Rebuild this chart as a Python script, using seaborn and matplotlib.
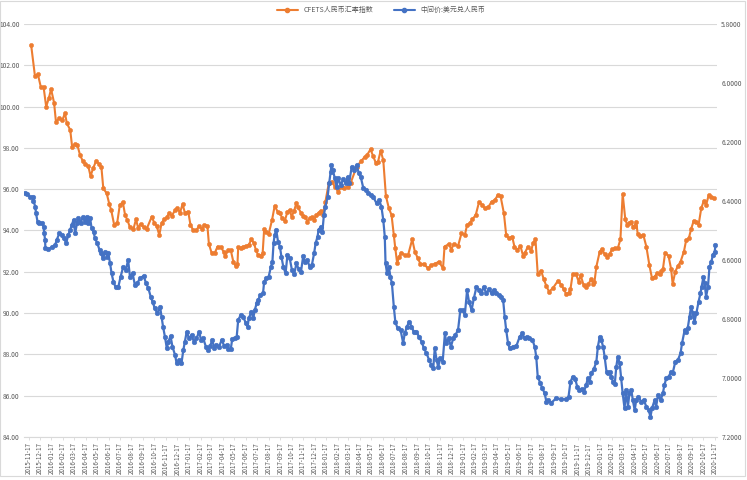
import pandas as pd
import seaborn as sns
import matplotlib.pyplot as plt
from matplotlib.lines import Line2D
from matplotlib.patches import Rectangle

# CFETS RMB index (weekly), left axis
cfets_dates = [
    "2015-11-24", "2015-12-04", "2015-12-12", "2015-12-20", "2015-12-27",
    "2016-01-03", "2016-01-10", "2016-01-16", "2016-01-24", "2016-01-29", "2016-02-07", "2016-02-15", "2016-02-22",
    "2016-02-27", "2016-03-07", "2016-03-12", "2016-03-20", "2016-03-26", "2016-04-02", "2016-04-09", "2016-04-16",
    "2016-04-24", "2016-04-30", "2016-05-07", "2016-05-15", "2016-05-23", "2016-05-29", "2016-06-03", "2016-06-12",
    "2016-06-19", "2016-06-24", "2016-07-02", "2016-07-10", "2016-07-17", "2016-07-25", "2016-07-31", "2016-08-06",
    "2016-08-13", "2016-08-22", "2016-08-29", "2016-09-04", "2016-09-10", "2016-09-19", "2016-09-26", "2016-10-10",
    "2016-10-17", "2016-10-23", "2016-10-30", "2016-11-05", "2016-11-12", "2016-11-19", "2016-11-26", "2016-12-02",
    "2016-12-11", "2016-12-17", "2016-12-24", "2016-12-31",
    "2017-01-06", "2017-01-15", "2017-01-21", "2017-01-28", "2017-02-06", "2017-02-13", "2017-02-21", "2017-02-26",
    "2017-03-07", "2017-03-11", "2017-03-18", "2017-03-27", "2017-04-03", "2017-04-12", "2017-04-19", "2017-04-24",
    "2017-05-01", "2017-05-08", "2017-05-15", "2017-05-21", "2017-05-26", "2017-05-28", "2017-06-04", "2017-06-10",
    "2017-06-19", "2017-06-25", "2017-07-02", "2017-07-09", "2017-07-14", "2017-07-20", "2017-07-27", "2017-08-01",
    "2017-08-05", "2017-08-11", "2017-08-17", "2017-08-26", "2017-09-02", "2017-09-10", "2017-09-16", "2017-09-22",
    "2017-09-29", "2017-10-06", "2017-10-12", "2017-10-17", "2017-10-24", "2017-10-30", "2017-11-03", "2017-11-11",
    "2017-11-17", "2017-11-23", "2017-11-28", "2017-12-04", "2017-12-10", "2017-12-16", "2017-12-22", "2017-12-28",
    "2018-01-03", "2018-01-09", "2018-01-15", "2018-01-24", "2018-02-02", "2018-02-09", "2018-02-18", "2018-02-27",
    "2018-03-06", "2018-03-15", "2018-03-23", "2018-04-08", "2018-04-21", "2018-04-30", "2018-05-06", "2018-05-15",
    "2018-05-22", "2018-05-29", "2018-06-04", "2018-06-11", "2018-06-18", "2018-06-25", "2018-07-03", "2018-07-10",
    "2018-07-16", "2018-07-20", "2018-07-25", "2018-07-30", "2018-08-05", "2018-08-14", "2018-08-23", "2018-09-03",
    "2018-09-10", "2018-09-18", "2018-09-25", "2018-10-04", "2018-10-15", "2018-10-24", "2018-11-02", "2018-11-13",
    "2018-11-24", "2018-11-28", "2018-12-10", "2018-12-16", "2018-12-22",
    "2019-01-03", "2019-01-12", "2019-01-21", "2019-01-27", "2019-02-03", "2019-02-10", "2019-02-19", "2019-02-28",
    "2019-03-09", "2019-03-15", "2019-03-24", "2019-04-02", "2019-04-11", "2019-04-19", "2019-04-26", "2019-05-05",
    "2019-05-11", "2019-05-18", "2019-05-27", "2019-06-02", "2019-06-10", "2019-06-18", "2019-06-25", "2019-06-30",
    "2019-07-08", "2019-07-17", "2019-07-21", "2019-07-28", "2019-08-03", "2019-08-12", "2019-08-19", "2019-08-26",
    "2019-09-02", "2019-09-12", "2019-09-26", "2019-10-05", "2019-10-11", "2019-10-18", "2019-10-24", "2019-10-29",
    "2019-11-04", "2019-11-13", "2019-11-20", "2019-11-25", "2019-12-03", "2019-12-10", "2019-12-16", "2019-12-23",
    "2019-12-29",
    "2020-01-01", "2020-01-06", "2020-01-15", "2020-01-21", "2020-01-28", "2020-02-04", "2020-02-10", "2020-02-17",
    "2020-02-25", "2020-03-03", "2020-03-10", "2020-03-16", "2020-03-23", "2020-03-28", "2020-04-01", "2020-04-08",
    "2020-04-12", "2020-04-17", "2020-04-21", "2020-04-25", "2020-05-02", "2020-05-10", "2020-05-18", "2020-05-26",
    "2020-06-02", "2020-06-09", "2020-06-16", "2020-06-22", "2020-06-27", "2020-07-01", "2020-07-07", "2020-07-16",
    "2020-07-23", "2020-07-27", "2020-08-03", "2020-08-10", "2020-08-17", "2020-08-26", "2020-09-01", "2020-09-08",
    "2020-09-14", "2020-09-21", "2020-09-27", "2020-10-04", "2020-10-11", "2020-10-18", "2020-10-24", "2020-10-31",
    "2020-11-06", "2020-11-13",
]
cfets_index = [
    102.98, 101.50, 101.56, 100.93, 100.96,
    100.00, 100.40, 100.85, 100.19, 99.27, 99.43, 99.35, 99.68,
    99.19, 98.87, 98.06, 98.19, 98.14, 97.66, 97.38, 97.22,
    97.12, 96.64, 97.01, 97.38, 97.22, 97.06, 96.04, 95.80,
    95.28, 94.99, 94.27, 94.38, 95.24, 95.37, 94.75, 94.51,
    94.15, 94.06, 94.54, 94.11, 94.31, 94.15, 94.06, 94.67,
    94.35, 94.22, 93.78, 94.35, 94.54, 94.64, 94.86, 94.70,
    94.99, 95.07, 94.86, 95.28,
    94.86, 94.91, 94.27, 94.02, 94.02, 94.22, 94.06, 94.27,
    94.23, 93.35, 92.93, 92.93, 93.22, 93.19, 92.98, 92.77,
    93.06, 93.06, 92.49, 92.28, 92.38, 93.19, 93.14, 93.22,
    93.25, 93.30, 93.57, 93.38, 93.06, 92.81, 92.77, 92.90,
    94.06, 93.94, 93.83, 94.51, 95.19, 94.91, 94.86, 94.59,
    94.47, 94.91, 94.99, 94.67, 94.96, 95.35, 95.12, 94.86,
    94.70, 94.64, 94.43, 94.59, 94.64, 94.51, 94.75, 94.86,
    94.96, 94.75, 95.39, 96.29, 96.37, 96.12, 95.88, 96.12,
    96.04, 96.12, 96.29, 97.09, 97.38, 97.57, 97.66, 97.93,
    97.61, 97.28, 97.33, 97.86, 97.41, 95.67, 95.07, 94.75,
    93.78, 93.14, 92.41, 92.73, 92.93, 92.81, 92.81, 93.57,
    92.98, 92.65, 92.38, 92.38, 92.17, 92.33, 92.38, 92.49,
    92.17, 93.22, 93.35, 93.06, 93.35,
    93.25, 93.86, 93.78, 94.27, 94.35, 94.54, 94.75, 95.39,
    95.23, 95.07, 95.12, 95.39, 95.48, 95.72, 95.67, 94.83,
    93.78, 93.62, 93.70, 93.22, 93.06, 93.25, 92.77, 92.93,
    93.22, 93.02, 93.38, 93.57, 91.89, 92.05, 91.64, 91.31,
    91.04, 91.20, 91.57, 91.36, 91.15, 90.93, 90.96, 91.15,
    91.89, 91.88, 91.52, 91.84, 91.36, 91.28, 91.41, 91.64,
    91.41,
    91.52, 92.25, 92.98, 93.09, 92.86, 92.73, 92.86, 93.09,
    93.14, 93.14, 93.57, 95.77, 94.54, 94.27, 94.35, 94.43,
    94.18, 94.22, 94.43, 93.83, 93.73, 93.78, 93.22, 92.33,
    91.69, 91.77, 91.93, 91.89, 92.05, 92.12, 92.93, 92.77,
    92.12, 91.41, 92.01, 92.28, 92.49, 92.98, 93.54, 93.62,
    94.06, 94.47, 94.43, 94.27, 95.07, 95.44, 95.23, 95.72,
    95.64, 95.56,
]

# USD/CNY central parity, right axis (inverted)
usd_dates = [
    "2015-11-08", "2015-11-14", "2015-11-21", "2015-11-29", "2015-11-30", "2015-12-05", "2015-12-07", "2015-12-11",
    "2015-12-16", "2015-12-23", "2015-12-27", "2015-12-29", "2015-12-31",
    "2016-01-01", "2016-01-09", "2016-01-18", "2016-01-27", "2016-01-31", "2016-02-07", "2016-02-13", "2016-02-20",
    "2016-02-25", "2016-03-02", "2016-03-07", "2016-03-11", "2016-03-16", "2016-03-20", "2016-03-25", "2016-03-29",
    "2016-04-04", "2016-04-09", "2016-04-15", "2016-04-20", "2016-04-24", "2016-04-29", "2016-05-03", "2016-05-08",
    "2016-05-12", "2016-05-18", "2016-05-24", "2016-05-28", "2016-06-02", "2016-06-08", "2016-06-14", "2016-06-16",
    "2016-06-21", "2016-06-25", "2016-06-30", "2016-07-06", "2016-07-13", "2016-07-19", "2016-07-26", "2016-08-02",
    "2016-08-08", "2016-08-13", "2016-08-20", "2016-08-26", "2016-09-01", "2016-09-09", "2016-09-18", "2016-09-25",
    "2016-10-01", "2016-10-07", "2016-10-12", "2016-10-18", "2016-10-25", "2016-11-01", "2016-11-05", "2016-11-09",
    "2016-11-14", "2016-11-19", "2016-11-23", "2016-11-29", "2016-12-04", "2016-12-11", "2016-12-15", "2016-12-22",
    "2016-12-28",
    "2017-01-02", "2017-01-06", "2017-01-11", "2017-01-17", "2017-01-24", "2017-01-30", "2017-02-06", "2017-02-13",
    "2017-02-18", "2017-02-24", "2017-03-03", "2017-03-08", "2017-03-14", "2017-03-20", "2017-03-25", "2017-03-31",
    "2017-04-07", "2017-04-14", "2017-04-21", "2017-04-27", "2017-05-01", "2017-05-08", "2017-05-12", "2017-05-19",
    "2017-05-24", "2017-05-28", "2017-06-04", "2017-06-10", "2017-06-17", "2017-06-22", "2017-06-25", "2017-07-02",
    "2017-07-07", "2017-07-11", "2017-07-16", "2017-07-20", "2017-07-26", "2017-08-02", "2017-08-05", "2017-08-11",
    "2017-08-17", "2017-08-23", "2017-08-27", "2017-08-30", "2017-09-02", "2017-09-06", "2017-09-11", "2017-09-16",
    "2017-09-20", "2017-09-25", "2017-10-01", "2017-10-06", "2017-10-12", "2017-10-18", "2017-10-24", "2017-10-30",
    "2017-11-05", "2017-11-11", "2017-11-17", "2017-11-21", "2017-11-28", "2017-12-04", "2017-12-10", "2017-12-16",
    "2017-12-20", "2017-12-25", "2017-12-28",
    "2018-01-03", "2018-01-07", "2018-01-11", "2018-01-15", "2018-01-21", "2018-01-25", "2018-01-29", "2018-01-31",
    "2018-02-04", "2018-02-09", "2018-02-14", "2018-02-18", "2018-02-25", "2018-03-03", "2018-03-10", "2018-03-15",
    "2018-03-19", "2018-03-26", "2018-04-02", "2018-04-08", "2018-04-14", "2018-04-19", "2018-04-26", "2018-05-02",
    "2018-05-09", "2018-05-16", "2018-05-22", "2018-05-31", "2018-06-07", "2018-06-13", "2018-06-18", "2018-06-22",
    "2018-06-24", "2018-06-28", "2018-07-03", "2018-07-07", "2018-07-11", "2018-07-16", "2018-07-20", "2018-07-26",
    "2018-08-03", "2018-08-10", "2018-08-14", "2018-08-20", "2018-08-26", "2018-09-01", "2018-09-07", "2018-09-14",
    "2018-09-21", "2018-09-28", "2018-10-04", "2018-10-11", "2018-10-18", "2018-10-24", "2018-10-29", "2018-11-02",
    "2018-11-07", "2018-11-11", "2018-11-17", "2018-11-23", "2018-11-29", "2018-12-03", "2018-12-09", "2018-12-15",
    "2018-12-21", "2018-12-27",
    "2019-01-03", "2019-01-09", "2019-01-15", "2019-01-21", "2019-01-27", "2019-02-01", "2019-02-08", "2019-02-14",
    "2019-02-21", "2019-02-28", "2019-03-06", "2019-03-12", "2019-03-19", "2019-03-26", "2019-04-02", "2019-04-08",
    "2019-04-15", "2019-04-22", "2019-04-28", "2019-05-03", "2019-05-07", "2019-05-11", "2019-05-16", "2019-05-20",
    "2019-05-29", "2019-06-07", "2019-06-16", "2019-06-23", "2019-06-29", "2019-07-05", "2019-07-12", "2019-07-20",
    "2019-07-26", "2019-07-30", "2019-08-03", "2019-08-10", "2019-08-15", "2019-08-21", "2019-08-26", "2019-08-30",
    "2019-09-08", "2019-09-21", "2019-10-05", "2019-10-18", "2019-10-24", "2019-10-29", "2019-11-04", "2019-11-11",
    "2019-11-16", "2019-11-22", "2019-11-28", "2019-12-04", "2019-12-10", "2019-12-14", "2019-12-19", "2019-12-23",
    "2019-12-30",
    "2020-01-06", "2020-01-10", "2020-01-15", "2020-01-19", "2020-01-24", "2020-01-28", "2020-02-02", "2020-02-06",
    "2020-02-10", "2020-02-15", "2020-02-19", "2020-02-24", "2020-02-28", "2020-03-03", "2020-03-08", "2020-03-12",
    "2020-03-16", "2020-03-21", "2020-03-25", "2020-03-30", "2020-04-03", "2020-04-08", "2020-04-12", "2020-04-17",
    "2020-04-21", "2020-04-27", "2020-05-04", "2020-05-11", "2020-05-18", "2020-05-24", "2020-05-29", "2020-06-02",
    "2020-06-09", "2020-06-13", "2020-06-18", "2020-06-25", "2020-07-01", "2020-07-05", "2020-07-10", "2020-07-16",
    "2020-07-23", "2020-07-27", "2020-08-03", "2020-08-10", "2020-08-17", "2020-08-21", "2020-08-28", "2020-09-01",
    "2020-09-05", "2020-09-10", "2020-09-14", "2020-09-19", "2020-09-23", "2020-09-28", "2020-10-04", "2020-10-09",
    "2020-10-12", "2020-10-17", "2020-10-20", "2020-10-24", "2020-10-29", "2020-11-02", "2020-11-07", "2020-11-11",
    "2020-11-16", "2020-11-18",
]
usd_mid = [
    6.372, 6.376, 6.387, 6.385, 6.399, 6.419, 6.442, 6.470,
    6.476, 6.474, 6.487, 6.510, 6.532,
    6.560, 6.563, 6.557, 6.549, 6.532, 6.510, 6.515, 6.527,
    6.543, 6.515, 6.498, 6.481, 6.464, 6.510, 6.476, 6.459,
    6.474, 6.455, 6.470, 6.453, 6.476, 6.459, 6.493, 6.504,
    6.527, 6.543, 6.566, 6.577, 6.594, 6.572, 6.589, 6.575,
    6.611, 6.645, 6.674, 6.693, 6.691, 6.657, 6.623, 6.634,
    6.600, 6.657, 6.645, 6.685, 6.679, 6.662, 6.654, 6.679,
    6.696, 6.724, 6.741, 6.764, 6.781, 6.758, 6.792, 6.826,
    6.860, 6.899, 6.877, 6.858, 6.894, 6.922, 6.950, 6.939,
    6.950,
    6.905, 6.877, 6.843, 6.866, 6.854, 6.877, 6.866, 6.843,
    6.871, 6.866, 6.894, 6.905, 6.892, 6.871, 6.899, 6.888,
    6.894, 6.871, 6.892, 6.888, 6.903, 6.903, 6.869, 6.866,
    6.860, 6.803, 6.786, 6.792, 6.813, 6.826, 6.798, 6.775,
    6.798, 6.770, 6.747, 6.736, 6.719, 6.713, 6.674, 6.662,
    6.657, 6.623, 6.606, 6.543, 6.515, 6.498, 6.538, 6.555,
    6.589, 6.623, 6.645, 6.583, 6.594, 6.634, 6.648, 6.611,
    6.632, 6.640, 6.586, 6.606, 6.600, 6.623, 6.617, 6.577,
    6.543, 6.521, 6.498,
    6.487, 6.504, 6.447, 6.419, 6.385, 6.340, 6.301, 6.278,
    6.295, 6.323, 6.352, 6.323, 6.346, 6.327, 6.340, 6.318,
    6.340, 6.284, 6.295, 6.278, 6.306, 6.318, 6.357, 6.363,
    6.374, 6.380, 6.385, 6.408, 6.397, 6.419, 6.464, 6.521,
    6.611, 6.645, 6.623, 6.657, 6.679, 6.758, 6.809, 6.832,
    6.837, 6.882, 6.849, 6.826, 6.809, 6.826, 6.843, 6.843,
    6.860, 6.877, 6.899, 6.916, 6.939, 6.956, 6.967, 6.899,
    6.939, 6.962, 6.933, 6.945, 6.849, 6.882, 6.866, 6.894,
    6.866, 6.854,
    6.837, 6.770, 6.770, 6.786, 6.702, 6.741, 6.770, 6.730,
    6.691, 6.702, 6.713, 6.691, 6.713, 6.699, 6.713, 6.702,
    6.711, 6.719, 6.724, 6.736, 6.792, 6.837, 6.882, 6.899,
    6.894, 6.892, 6.860, 6.849, 6.866, 6.860, 6.866, 6.871,
    6.894, 6.928, 6.996, 7.018, 7.035, 7.050, 7.080, 7.075,
    7.084, 7.069, 7.072, 7.072, 7.063, 7.013, 6.996, 7.005,
    7.029, 7.041, 7.038, 7.046, 7.024, 7.001, 7.013, 6.984,
    6.971,
    6.945, 6.894, 6.860, 6.871, 6.894, 6.928, 6.979, 6.984,
    6.979, 6.996, 7.013, 7.020, 6.962, 6.928, 6.950, 7.001,
    7.052, 7.103, 7.041, 7.097, 7.052, 7.041, 7.075, 7.109,
    7.075, 7.063, 7.080, 7.075, 7.097, 7.109, 7.131, 7.103,
    7.075, 7.097, 7.058, 7.075, 7.052, 7.024, 7.001, 6.996,
    6.979, 6.984, 6.945, 6.939, 6.916, 6.882, 6.837, 6.843,
    6.832, 6.792, 6.758, 6.781, 6.809, 6.781, 6.741, 6.713,
    6.691, 6.657, 6.679, 6.724, 6.691, 6.623, 6.606, 6.583,
    6.572, 6.549,
]

assert len(cfets_dates) == len(cfets_index)
assert len(usd_dates) == len(usd_mid)

cfets_label = "CFETS人民币汇率指数"
usd_label = "中间价:美元兑人民币"
orange = "#ED7D31"
blue = "#4472C4"
grey_txt = "#595959"
grey_line = "#D9D9D9"

cfets = pd.DataFrame({"date": pd.to_datetime(cfets_dates), "value": cfets_index})
usd = pd.DataFrame({"date": pd.to_datetime(usd_dates), "value": usd_mid})

sns.set_theme(style="white")
plt.rcParams["font.family"] = ["Noto Sans CJK SC", "DejaVu Sans"]

fig = plt.figure(figsize=(7.47, 4.80), dpi=100)
ax = fig.add_axes([24 / 747, 43 / 480, 693 / 747, 413 / 480])
ax2 = ax.twinx()

sns.lineplot(data=cfets, x="date", y="value", ax=ax, color=orange, linewidth=1.5,
             marker="o", markersize=3, markeredgecolor=orange, markeredgewidth=0.4, legend=False)
sns.lineplot(data=usd, x="date", y="value", ax=ax2, color=blue, linewidth=1.6,
             marker="o", markersize=3.3, markeredgecolor=blue, markeredgewidth=0.4, legend=False)

# left axis
ax.set_ylim(84, 104)
ax.set_yticks(range(84, 105, 2))
ax.set_yticklabels([f"{v:.2f}" for v in range(84, 105, 2)])
ax.yaxis.grid(True, color=grey_line, linewidth=0.8)
ax.xaxis.grid(False)
ax.set_xlabel("")
ax.set_ylabel("")

# right axis, inverted
ax2.set_ylim(7.2, 5.8)
r_ticks = [5.8, 6.0, 6.2, 6.4, 6.6, 6.8, 7.0, 7.2]
ax2.set_yticks(r_ticks)
ax2.set_yticklabels([f"{v:.4f}" for v in r_ticks])
ax2.grid(False)
ax2.set_ylabel("")

# monthly date ticks
ticks = pd.date_range("2015-11-17", "2020-11-17", freq=pd.DateOffset(months=1))
ax.set_xlim(pd.Timestamp("2015-11-05"), pd.Timestamp("2020-11-22"))
ax.set_xticks(ticks)
ax.set_xticklabels([t.strftime("%Y-%m-%d") for t in ticks], rotation=90)

for a in (ax, ax2):
    for s in a.spines.values():
        s.set_visible(False)
ax.spines["bottom"].set_visible(True)
ax.spines["bottom"].set_color(grey_line)
ax.spines["bottom"].set_linewidth(0.8)

ax.tick_params(axis="y", length=0, labelsize=4.8, colors=grey_txt, pad=3)
ax2.tick_params(axis="y", length=0, labelsize=4.8, colors=grey_txt, pad=3)
ax.tick_params(axis="x", length=2.5, width=0.6, color=grey_line, labelsize=4.5,
               labelcolor=grey_txt, pad=1.5, bottom=True)

handles = [
    Line2D([], [], color=orange, linewidth=1.5, marker="o", markersize=3),
    Line2D([], [], color=blue, linewidth=1.5, marker="o", markersize=3),
]
fig.legend(handles, [cfets_label, usd_label], loc="upper center", bbox_to_anchor=(0.51, 1.0),
           ncol=2, frameon=False, fontsize=5, handlelength=3, columnspacing=3,
           labelcolor=grey_txt)

fig.patches.append(Rectangle((0.0, 0.008), 0.997, 0.99, transform=fig.transFigure,
                             fill=False, edgecolor=grey_line, linewidth=0.8))

fig.savefig("out.png", dpi=100)
